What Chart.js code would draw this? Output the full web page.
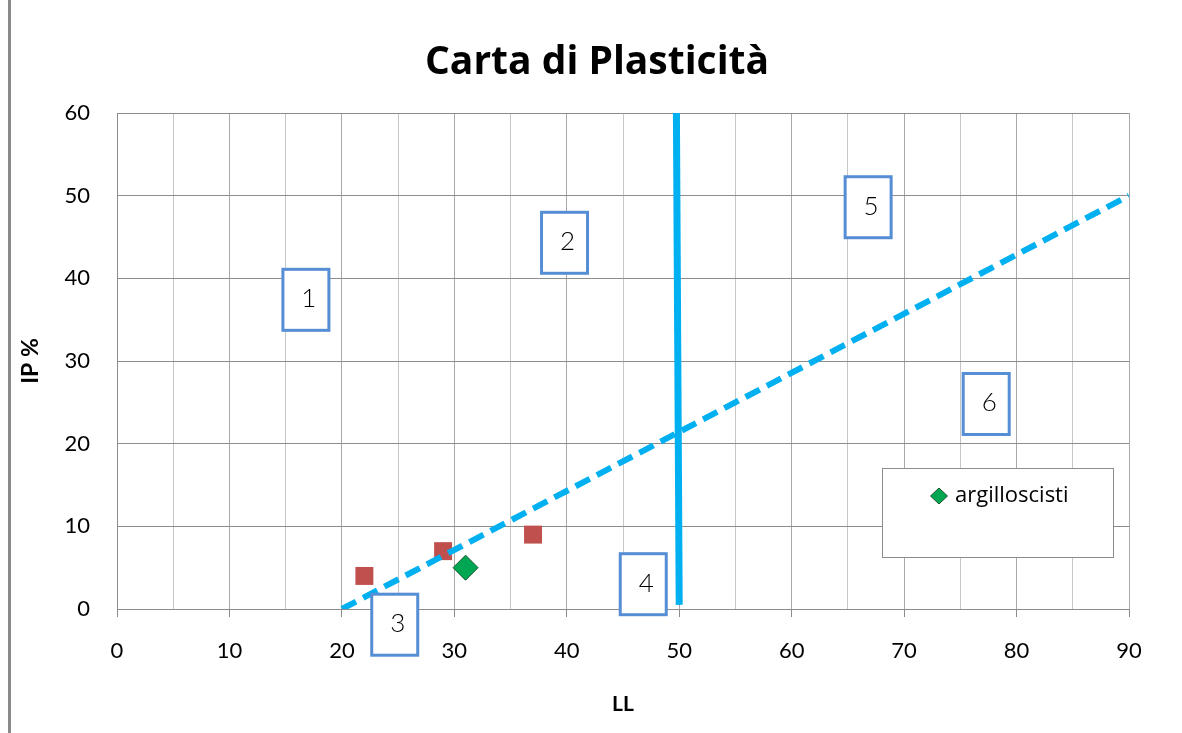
<!DOCTYPE html>
<html lang="it">
<head>
<meta charset="utf-8">
<title>Carta di Plasticità</title>
<script src="https://cdn.jsdelivr.net/npm/chart.js@4/dist/chart.umd.min.js"></script>
<style>
  html, body { margin: 0; padding: 0; background: #fff; }
  #wrap { position: relative; width: 1182px; height: 733px; }
</style>
</head>
<body>
<div id="wrap"><canvas id="carta"></canvas></div>
<script>
// Campioni (LL, IP)
const campioniLL = [22, 29, 37];
const campioniIP = [4, 7, 9];
const argilloscistiLL = [31];
const argilloscistiIP = [5];

// Linea A tratteggiata
const lineaALL = [20, 90];
const lineaAIP = [0, 50];

// Linea verticale LL = 50
const lineaBLL = [50, 49.75];
const lineaBIP = [0.5, 60];

// Riquadri numerati delle zone: etichetta e posizione (LL, IP) del centro
const zoneTesti = ['1', '2', '3', '4', '5', '6'];
const zoneLL = [16.8, 39.8, 24.7, 46.8, 66.8, 77.3];
const zoneIP = [37.4, 44.3, -1.9, 3.0, 48.6, 24.8];

// Assi
const xMin = 0, xMax = 90, xStep = 5, xLabelStep = 10;
const yMin = 0, yMax = 60, yStep = 10;

const FONT = 'Lato, "Open Sans", "DejaVu Sans", sans-serif';
const TITLE_FONT = '"Open Sans", Lato, "DejaVu Sans", sans-serif';

function pts(xs, ys) { return xs.map((x, i) => ({ x, y: ys[i] })); }

// sfondo e bordo sinistro dell'area del grafico
const chartFrame = {
  id: 'chartFrame',
  beforeDraw(chart) {
    const ctx = chart.ctx;
    ctx.save();
    ctx.fillStyle = '#fff';
    ctx.fillRect(0, 0, chart.width, chart.height);
    ctx.fillStyle = '#8a8a8a';
    ctx.fillRect(8, 0, 3, chart.height);
    ctx.restore();
  }
};

// riquadri con i numeri delle zone
const zoneBoxes = {
  id: 'zoneBoxes',
  afterDatasetsDraw(chart) {
    const { ctx, scales: { x, y } } = chart;
    const w = 46, h = 61;
    ctx.save();
    zoneTesti.forEach((t, i) => {
      const cx = x.getPixelForValue(zoneLL[i]);
      const cy = y.getPixelForValue(zoneIP[i]);
      ctx.fillStyle = '#fff';
      ctx.fillRect(cx - w / 2, cy - h / 2, w, h);
      ctx.strokeStyle = '#558ed5';
      ctx.lineWidth = 3;
      ctx.strokeRect(cx - w / 2, cy - h / 2, w, h);
      ctx.fillStyle = '#000';
      ctx.font = '300 26px ' + FONT;
      ctx.textAlign = 'center';
      ctx.textBaseline = 'middle';
      ctx.fillText(t, cx + 3, cy - 1);
    });
    ctx.restore();
  }
};

// legenda in riquadro dentro l'area del grafico
const boxLegend = {
  id: 'boxLegend',
  afterDraw(chart) {
    const { ctx, chartArea } = chart;
    const ds = chart.data.datasets[0];
    const bw = 231, bh = 89;
    const bx = chartArea.right - 16 - bw;
    const by = chartArea.bottom - 52 - bh;
    ctx.save();
    ctx.fillStyle = '#fff';
    ctx.fillRect(bx, by, bw, bh);
    ctx.strokeStyle = '#8c8c8c';
    ctx.lineWidth = 1;
    ctx.strokeRect(bx + 0.5, by + 0.5, bw, bh);
    const mx = bx + 57, my = by + 28;
    ctx.fillStyle = ds.backgroundColor;
    ctx.strokeStyle = ds.borderColor;
    ctx.lineWidth = 1;
    ctx.beginPath();
    ctx.moveTo(mx - 8.5, my); ctx.lineTo(mx, my - 8); ctx.lineTo(mx + 8.5, my); ctx.lineTo(mx, my + 8);
    ctx.closePath();
    ctx.fill(); ctx.stroke();
    ctx.fillStyle = '#000';
    ctx.font = '22px ' + TITLE_FONT;
    ctx.textAlign = 'left';
    ctx.textBaseline = 'middle';
    ctx.fillText(ds.label, mx + 16, my);
    ctx.restore();
  }
};

new Chart(document.getElementById('carta'), {
  type: 'scatter',
  data: {
    datasets: [
      {
        label: 'argilloscisti',
        data: pts(argilloscistiLL, argilloscistiIP),
        pointStyle: 'rectRot',
        pointRadius: 12.5,
        backgroundColor: '#00a651',
        borderColor: '#13532c',
        borderWidth: 1,
        order: 0
      },
      {
        label: 'Linea A',
        data: pts(lineaALL, lineaAIP),
        showLine: true,
        borderColor: '#00b0f0',
        borderWidth: 6,
        borderDash: [16, 8],
        borderCapStyle: 'butt',
        pointRadius: 0,
        fill: false,
        order: 1
      },
      {
        label: 'LL 50',
        data: pts(lineaBLL, lineaBIP),
        showLine: true,
        borderColor: '#00b0f0',
        borderWidth: 7,
        borderCapStyle: 'butt',
        pointRadius: 0,
        fill: false,
        order: 1
      },
      {
        label: 'campioni',
        data: pts(campioniLL, campioniIP),
        pointStyle: 'rect',
        pointRadius: 12.7,
        backgroundColor: '#c0504d',
        borderColor: '#c0504d',
        borderWidth: 0,
        order: 2
      }
    ]
  },
  options: {
    responsive: true,
    maintainAspectRatio: false,
    animation: false,
    layout: { padding: { left: 12, right: 0, top: 0, bottom: 0 } },
    plugins: {
      legend: { display: false },
      tooltip: { enabled: false },
      title: {
        display: true,
        text: 'Carta di Plasticità',
        color: '#000',
        font: { family: TITLE_FONT, size: 39, weight: 'bold', lineHeight: 1.2 },
        padding: { top: 39.6, bottom: 26.6 }
      }
    },
    scales: {
      x: {
        type: 'linear',
        min: xMin, max: xMax,
        afterFit(s) { s.height = 124; },
        ticks: {
          stepSize: xStep,
          color: '#000',
          font: { family: FONT, size: 22 },
          padding: 21,
          maxRotation: 0,
          autoSkip: false,
          callback: v => (v % xLabelStep === 0 ? String(v) : '')
        },
        grid: {
          color: c => (c.tick && c.tick.value % xLabelStep === 0 ? '#a8a8a8' : '#c6c6c6'),
          tickColor: c => (c.tick && c.tick.value % xLabelStep === 0 ? '#8c8c8c' : 'rgba(0,0,0,0)'),
          tickLength: 8,
          drawTicks: true
        },
        border: { color: '#8c8c8c' },
        title: {
          display: true,
          text: 'LL',
          color: '#000',
          font: { family: FONT, size: 21, weight: 'bold', lineHeight: 1.2 },
          padding: { top: 0, bottom: 16 }
        }
      },
      y: {
        type: 'linear',
        position: 'left',
        min: yMin, max: yMax,
        afterFit(s) { s.width = 105; },
        ticks: {
          stepSize: yStep,
          color: '#000',
          font: { family: FONT, size: 22 },
          padding: 27
        },
        grid: { color: '#8c8c8c', drawTicks: false },
        border: { color: '#8c8c8c' },
        title: {
          display: true,
          text: 'IP %',
          color: '#000',
          font: { family: FONT, size: 23, weight: 'bold', lineHeight: 1.2 },
          padding: { top: 5, bottom: 0 }
        }
      },
      margineDestro: {
        type: 'linear',
        position: 'right',
        display: true,
        afterFit(s) { s.width = 53; },
        grid: { display: false, drawTicks: false },
        ticks: { display: false },
        border: { display: false }
      }
    }
  },
  plugins: [chartFrame, zoneBoxes, boxLegend]
});
</script>
</body>
</html>
